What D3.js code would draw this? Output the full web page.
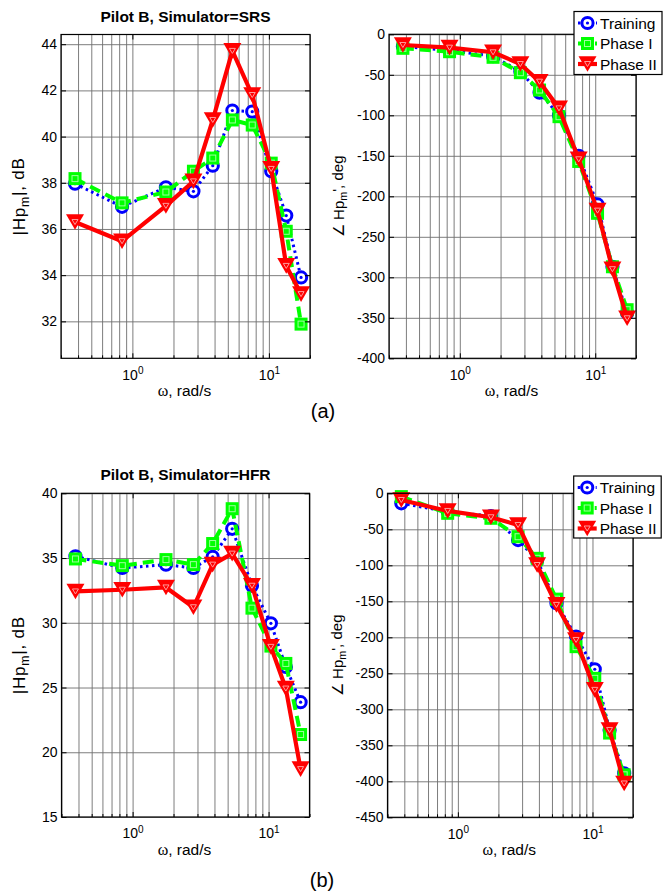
<!DOCTYPE html>
<html>
<head>
<meta charset="utf-8">
<script src="https://cdn.jsdelivr.net/npm/d3@7/dist/d3.min.js"></script>
<style>
  html, body { margin: 0; padding: 0; background: #fff; }
  svg { display: block; font-family: "Liberation Sans", Arial, sans-serif; }
</style>
</head>
<body>
<svg id="chart" width="670" height="895"></svg>
<script>
// frequencies, rad/s (same for every panel)
const freq = [0.38, 0.84, 1.76, 2.8, 3.88, 5.4, 7.55, 10.4, 13.4, 17.2]

// Pilot B, SRS
const srsMagTraining = [37.96, 36.96, 37.8, 37.63, 38.74, 41.13, 41.08, 38.5, 36.58, 33.9]
const srsMagPhase1   = [38.18, 37.13, 37.6, 38.5, 39.07, 40.72, 40.5, 38.85, 35.9, 31.88]
const srsMagPhase2   = [36.3, 35.47, 37.0, 38.06, 40.72, 43.71, 41.8, 38.6, 34.4, 33.18]
const srsPhTraining  = [-15, -20, -27, -46, -72, -100, -150, -210, -287, -344]
const srsPhPhase1    = [-17.3, -21.5, -28.4, -47.4, -68.8, -101.7, -157, -221, -287, -340]
const srsPhPhase2    = [-13.2, -16.5, -22.2, -36.7, -58.5, -91.4, -154.3, -217.7, -290, -350.6]

// Pilot B, HFR
const hfrMagTraining = [35.13, 34.23, 34.49, 34.23, 35.1, 37.26, 32.86, 29.96, 26.59, 23.87]
const hfrMagPhase1   = [34.93, 34.41, 34.88, 34.49, 36.12, 38.81, 31.13, 28.2, 26.86, 21.37]
const hfrMagPhase2   = [32.42, 32.55, 32.73, 31.2, 34.49, 35.34, 32.86, 28.14, 24.92, 18.7]
const hfrPhTraining  = [-13.9, -25.5, -31.5, -64.9, -92.6, -152.8, -199, -244.4, -328.7, -389]
const hfrPhPhase1    = [-4.6, -27.8, -34.7, -60.3, -90.3, -147, -213, -257, -333, -391]
const hfrPhPhase2    = [-9.3, -24.5, -33.3, -44, -99.6, -155, -203.7, -273, -328.7, -403]

const seriesNames = ["Training", "Phase I", "Phase II"]
const xMajor = [1, 10]
const xMinor = [0.3, 0.4, 0.5, 0.6, 0.7, 0.8, 0.9, 2, 3, 4, 5, 6, 7, 8, 9, 20]
const srsMagTicks = [32, 34, 36, 38, 40, 42, 44]
const hfrMagTicks = [15, 20, 25, 30, 35, 40]
const srsPhTicks = [-400, -350, -300, -250, -200, -150, -100, -50, 0]
const hfrPhTicks = [-450, -400, -350, -300, -250, -200, -150, -100, -50, 0]

const STYLES = [
  { color: "#0000ff", width: 3, dash: "2.5,3.5", marker: "circle" },
  { color: "#00ff00", width: 4, dash: "11,6", marker: "square" },
  { color: "#ff0000", width: 4.2, dash: null, marker: "triangle" }
]

const svg = d3.select("#chart")

function drawMarker(g, type, color) {
  if (type === "circle") {
    g.append("circle").attr("r", 5.6).attr("fill", "#fff")
      .attr("stroke", color).attr("stroke-width", 3)
    g.append("circle").attr("r", 1.6).attr("fill", color)
  } else if (type === "square") {
    g.append("rect").attr("x", -6.5).attr("y", -6.5).attr("width", 13).attr("height", 13)
      .attr("fill", color)
    g.append("rect").attr("x", -3).attr("y", -3).attr("width", 6).attr("height", 6)
      .attr("fill", "none").attr("stroke", "#9dff9d").attr("stroke-width", 1)
  } else {
    g.append("path").attr("d", "M-9,-7.8L9,-7.8L0,7.8Z").attr("fill", color)
    g.append("path").attr("d", "M-3,-2.5L3,-2.5L0,2.5Z")
      .attr("fill", "none").attr("stroke", "#ff9a9a").attr("stroke-width", 1)
  }
}

function drawPanel(p) {
  const x = d3.scaleLog().domain([0.3, 20]).range([p.left, p.right])
  const y = d3.scaleLinear().domain(p.yDomain).range([p.bottom, p.top])
  const h = p.bottom - p.top
  const w = p.right - p.left
  const g = svg.append("g")

  // grid
  g.append("g").attr("transform", `translate(0,${p.bottom})`)
    .call(d3.axisBottom(x).tickValues(xMajor.concat(xMinor)).tickSize(-h).tickFormat(""))
    .call(a => a.select(".domain").remove())
    .call(a => a.selectAll("line").attr("stroke", "#6e6e6e").attr("stroke-width", 0.9))
  g.append("g").attr("transform", `translate(${p.left},0)`)
    .call(d3.axisLeft(y).tickValues(p.yTicks).tickSize(-w).tickFormat(""))
    .call(a => a.select(".domain").remove())
    .call(a => a.selectAll("line").attr("stroke", "#6e6e6e").attr("stroke-width", 0.9))

  // series
  p.series.forEach((vals, i) => {
    const st = STYLES[i]
    const pts = freq.map((f, j) => [x(f), y(vals[j])])
    g.append("path")
      .attr("d", d3.line()(pts))
      .attr("fill", "none")
      .attr("stroke", st.color)
      .attr("stroke-width", st.width)
      .attr("stroke-dasharray", st.dash)
      .attr("stroke-linejoin", "round")
    g.append("g").selectAll("g")
      .data(pts)
      .join("g")
      .attr("transform", d => `translate(${d[0]},${d[1]})`)
      .each(function() { drawMarker(d3.select(this), st.marker, st.color) })
  })

  // box
  g.append("rect").attr("x", p.left).attr("y", p.top).attr("width", w).attr("height", h)
    .attr("fill", "none").attr("stroke", "#000").attr("stroke-width", 1.2)

  // x axis, ticks inward
  const xa = g.append("g").attr("transform", `translate(0,${p.bottom})`)
    .call(d3.axisBottom(x).tickValues(xMajor).tickSizeInner(-5).tickSizeOuter(0).tickPadding(8)
      .tickFormat(d => "10"))
  xa.select(".domain").remove()
  xa.selectAll("text").attr("font-size", 14).attr("fill", "#000").attr("dy", "0.95em")
    .append("tspan").attr("dy", "-0.55em").attr("font-size", 10)
    .text(d => Math.round(Math.log10(d)))
  g.append("g").attr("transform", `translate(0,${p.bottom})`)
    .call(d3.axisBottom(x).tickValues(xMinor).tickSize(-3).tickFormat(""))
    .call(a => a.select(".domain").remove())
  g.append("g").attr("transform", `translate(0,${p.top})`)
    .call(d3.axisTop(x).tickValues(xMajor).tickSize(-5).tickFormat(""))
    .call(a => a.select(".domain").remove())

  // y axis
  const ya = g.append("g").attr("transform", `translate(${p.left},0)`)
    .call(d3.axisLeft(y).tickValues(p.yTicks).tickSizeInner(-5).tickSizeOuter(0).tickPadding(4))
  ya.select(".domain").remove()
  ya.selectAll("text").attr("font-size", 14).attr("fill", "#000")
    .text(d => String(d).replace("\u2212", "-"))
  g.append("g").attr("transform", `translate(${p.right},0)`)
    .call(d3.axisRight(y).tickValues(p.yTicks).tickSize(-5).tickFormat(""))
    .call(a => a.select(".domain").remove())

  // labels
  const cx = (p.left + p.right) / 2
  if (p.title) {
    g.append("text").attr("x", cx).attr("y", p.top - 13)
      .attr("text-anchor", "middle").attr("font-size", 15.5).attr("font-weight", "bold")
      .text(p.title)
  }
  const xl = g.append("text").attr("x", cx - 1).attr("y", p.bottom + 38)
    .attr("text-anchor", "middle").attr("font-size", 15.5)
  xl.append("tspan").attr("font-family", "Liberation Serif, serif").attr("font-size", 16).text("\u03c9")
  xl.append("tspan").text(", rad/s")

  const yl = g.append("text")
    .attr("transform", `translate(${p.yLabelX},${(p.top + p.bottom) / 2}) rotate(-90)`)
    .attr("text-anchor", "middle").attr("font-size", p.yLabelSize)
    .attr("letter-spacing", p.yLabelSpacing)
  p.yLabel.forEach(part => {
    const t = yl.append("tspan").text(part.t)
    if (part.sub) t.attr("font-size", p.yLabelSize * 0.72).attr("dy", "0.3em")
    if (part.back) t.attr("dy", "-0.3em")
  })

  // legend
  if (p.legend) {
    const L = p.legend
    const lg = g.append("g")
    lg.append("rect").attr("x", L.x).attr("y", L.y).attr("width", L.w).attr("height", L.h)
      .attr("fill", "#fff").attr("stroke", "#000").attr("stroke-width", 1.2)
    seriesNames.forEach((name, i) => {
      const st = STYLES[i]
      const ry = L.y + 11.5 + i * 20.5
      lg.append("line").attr("x1", L.x + 4).attr("x2", L.x + 23).attr("y1", ry).attr("y2", ry)
        .attr("stroke", st.color).attr("stroke-width", st.width).attr("stroke-dasharray", st.dash)
      const m = lg.append("g").attr("transform", `translate(${L.x + 13.5},${ry})`)
      drawMarker(m, st.marker, st.color)
      lg.append("text").attr("x", L.x + 26).attr("y", ry + 5.5).attr("font-size", 15.5)
        .text(name)
    })
  }
}

const magLabel = [{ t: "|Hp" }, { t: "m", sub: true }, { t: "|, dB", back: true }]
const phLabel = [{ t: "\u2220 Hp" }, { t: "m", sub: true }, { t: "', deg", back: true }]

drawPanel({
  left: 61, right: 310, top: 34.5, bottom: 358.3, yDomain: [30.4, 44.42], yTicks: srsMagTicks,
  series: [srsMagTraining, srsMagPhase1, srsMagPhase2],
  title: "Pilot B, Simulator=SRS", yLabel: magLabel, yLabelX: 25, yLabelSize: 17, yLabelSpacing: 0.8
})
drawPanel({
  left: 389, right: 636, top: 34.3, bottom: 358.3, yDomain: [-400, 0], yTicks: srsPhTicks,
  series: [srsPhTraining, srsPhPhase1, srsPhPhase2],
  yLabel: phLabel, yLabelX: 344, yLabelSize: 15, yLabelSpacing: 0,
  legend: { x: 574, y: 11.5, w: 88, h: 63 }
})
drawPanel({
  left: 61.5, right: 309.5, top: 493.3, bottom: 817, yDomain: [15, 40], yTicks: hfrMagTicks,
  series: [hfrMagTraining, hfrMagPhase1, hfrMagPhase2],
  title: "Pilot B, Simulator=HFR", yLabel: magLabel, yLabelX: 25, yLabelSize: 17, yLabelSpacing: 0.8
})
drawPanel({
  left: 387.5, right: 633, top: 493.3, bottom: 817.3, yDomain: [-450, 0], yTicks: hfrPhTicks,
  series: [hfrPhTraining, hfrPhPhase1, hfrPhPhase2],
  yLabel: phLabel, yLabelX: 343, yLabelSize: 15, yLabelSpacing: 0,
  legend: { x: 573.7, y: 476, w: 87.5, h: 62 }
})

svg.append("text").attr("x", 323).attr("y", 418).attr("text-anchor", "middle")
  .attr("font-size", 20).text("(a)")
svg.append("text").attr("x", 322).attr("y", 887).attr("text-anchor", "middle")
  .attr("font-size", 20).text("(b)")
</script>
</body>
</html>
